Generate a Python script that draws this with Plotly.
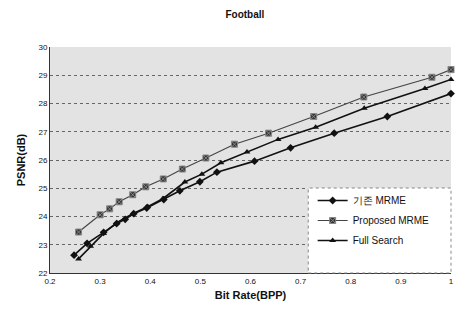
import plotly.graph_objects as go

# Data
mrme_x = [0.248, 0.274, 0.307, 0.333, 0.350, 0.367, 0.393, 0.427, 0.459, 0.499, 0.533, 0.608, 0.680, 0.767, 0.873, 1.0]
mrme_y = [22.63, 23.05, 23.44, 23.75, 23.90, 24.10, 24.30, 24.60, 24.91, 25.23, 25.57, 25.96, 26.43, 26.95, 27.54, 28.35]

prop_x = [0.257, 0.300, 0.319, 0.338, 0.365, 0.391, 0.426, 0.464, 0.511, 0.568, 0.636, 0.726, 0.826, 0.962, 1.0]
prop_y = [23.45, 24.06, 24.27, 24.52, 24.77, 25.05, 25.33, 25.68, 26.07, 26.56, 26.95, 27.54, 28.23, 28.93, 29.20]

full_x = [0.257, 0.281, 0.307, 0.333, 0.365, 0.395, 0.425, 0.469, 0.503, 0.541, 0.593, 0.655, 0.730, 0.827, 0.948, 1.0]
full_y = [22.50, 22.95, 23.40, 23.78, 24.10, 24.35, 24.63, 25.22, 25.50, 25.90, 26.28, 26.73, 27.16, 27.83, 28.53, 28.85]

names = ["기존 MRME", "Proposed MRME", "Full Search"]
x_ticks = [0.2, 0.3, 0.4, 0.5, 0.6, 0.7, 0.8, 0.9, 1.0]
x_tick_text = ["0.2", "0.3", "0.4", "0.5", "0.6", "0.7", "0.8", "0.9", "1"]
y_ticks = [22, 23, 24, 25, 26, 27, 28, 29, 30]

font = "Liberation Sans, Arial, sans-serif"

fig = go.Figure()
fig.add_trace(go.Scatter(x=mrme_x, y=mrme_y, name=names[0], mode="lines+markers",
                         cliponaxis=False, legendgroup="a",
                         line=dict(color="#111111", width=1.6),
                         marker=dict(symbol="diamond", size=6, color="#111111")))
fig.add_trace(go.Scatter(x=prop_x, y=prop_y, name=names[1], mode="lines+markers",
                         cliponaxis=False, legendgroup="b",
                         line=dict(color="#444444", width=1.1),
                         marker=dict(symbol="square-x", size=6, color="#333333",
                                     line=dict(color="#888888", width=1))))
fig.add_trace(go.Scatter(x=full_x, y=full_y, name=names[2], mode="lines+markers",
                         cliponaxis=False, legendgroup="c",
                         line=dict(color="#111111", width=1.6),
                         marker=dict(symbol="triangle-up", size=6, color="#111111")))

fig.update_layout(
    width=456, height=314,
    margin=dict(l=50, r=5, t=47, b=41),
    paper_bgcolor="white",
    plot_bgcolor="#e3e3e3",
    font=dict(family=font, color="#111111", size=8),
    title=dict(text="<b>Football</b>", x=0.537, xanchor="center", y=0.955, yanchor="middle",
               font=dict(size=10, family=font)),
    showlegend=True,
    legend=dict(x=0.655, y=0.385, xanchor="left", yanchor="top",
                bgcolor="rgba(0,0,0,0)", borderwidth=0,
                font=dict(size=10, family=font), tracegroupgap=1,
                itemwidth=30),
    shapes=[dict(type="rect", xref="paper", yref="paper", x0=0.644, x1=1.0, y0=0.0, y1=0.376,
                 fillcolor="white", line=dict(color="#888888", width=1, dash="dot"), layer="above")],
    xaxis=dict(range=[0.2, 1.0], tickvals=x_ticks, ticktext=x_tick_text,
               automargin=False,
               showgrid=False,
               showline=True, linecolor="#333333", linewidth=1, mirror=False,
               ticks="", zeroline=False,
               title=dict(text="<b>Bit Rate(BPP)</b>", font=dict(size=11, family=font), standoff=6)),
    yaxis=dict(range=[22, 30], tickvals=y_ticks,
               automargin=False,
               showgrid=True, gridcolor="#666666", griddash="dot", gridwidth=1,
               showline=True, linecolor="#333333", linewidth=1,
               ticks="", zeroline=False,
               title=dict(text="<b>PSNR(dB)</b>", font=dict(size=11, family=font), standoff=10)),
)

fig.write_html("out.html",
               config={"displayModeBar": False},
               post_script="document.body.style.margin='0';document.body.style.overflow='hidden';")
